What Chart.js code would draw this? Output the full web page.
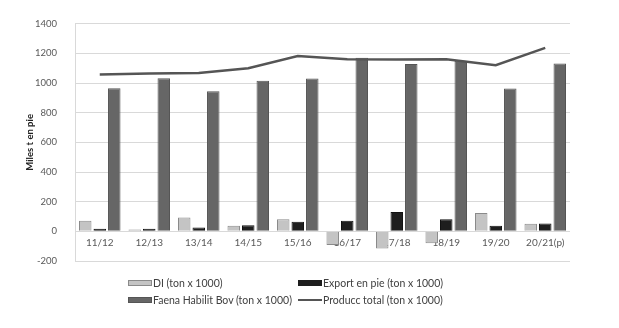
<!DOCTYPE html>
<html>
<head>
<meta charset="utf-8">
<script src="https://cdn.jsdelivr.net/npm/chart.js@4"></script>
<style>
  html, body { margin: 0; padding: 0; background: #fff; }
  #wrap { position: relative; width: 619px; height: 328px; }
  #legenda { position: absolute; left: 128px; top: 277px; font-family: Lato, sans-serif; font-size: 10.5px; color: #404040; display: grid; grid-template-columns: 170px 170px; row-gap: 5px; }
  .voce { display: flex; align-items: center; white-space: nowrap; }
  .box { width: 24px; height: 6px; margin-right: 1px; box-sizing: border-box; }
  .linea { width: 24px; height: 2px; margin-right: 1px; background: #555; }
</style>
</head>
<body>
<div id="wrap">
  <canvas id="grafico" width="619" height="328"></canvas>
  <div id="legenda">
    <div class="voce"><span class="box" style="background:#c4c4c4;border:1px solid #8a8a8a"></span>DI (ton x 1000)</div>
    <div class="voce"><span class="box" style="background:#1e1e1e"></span>Export en pie (ton x 1000)</div>
    <div class="voce"><span class="box" style="background:#666;border:1px solid #555"></span>Faena Habilit Bov (ton x 1000)</div>
    <div class="voce"><span class="linea"></span>Producc total (ton x 1000)</div>
  </div>
</div>
<script>
const categorie = ['11/12', '12/13', '13/14', '14/15', '15/16', '16/17', '17/18', '18/19', '19/20', '20/21(p)'];
const di = [72, 12, 94, 37, 81, -92, -116, -81, 123, 51];
const exportPie = [17, 18, 26, 41, 64, 72, 131, 81, 37, 53];
const faena = [965, 1033, 944, 1015, 1031, 1171, 1129, 1151, 963, 1132];
const producc = [1058, 1064, 1068, 1100, 1182, 1160, 1158, 1160, 1120, 1237];

const ctx = document.getElementById('grafico').getContext('2d');
new Chart(ctx, {
    type: 'bar',
    data: {
        labels: categorie,
        datasets: [
            { type: 'line', label: 'Producc total (ton x 1000)', data: producc, borderColor: '#555', borderWidth: 2.5, pointRadius: 0, tension: 0, fill: false, order: 0 },
            { label: 'DI (ton x 1000)', data: di, backgroundColor: '#c4c4c4', borderColor: '#8a8a8a', borderWidth: 1, order: 1 },
            { label: 'Export en pie (ton x 1000)', data: exportPie, backgroundColor: '#1e1e1e', borderColor: '#111', borderWidth: 1, order: 1 },
            { label: 'Faena Habilit Bov (ton x 1000)', data: faena, backgroundColor: '#666', borderColor: '#555', borderWidth: 1, order: 1 }
        ]
    },
    options: {
        responsive: false,
        animation: false,
        datasets: { bar: { categoryPercentage: 0.88, barPercentage: 0.86 } },
        layout: { padding: { left: 0, top: 17, right: 49, bottom: 67 } },
        plugins: { legend: { display: false }, tooltip: { enabled: false } },
        scales: {
            x: {
                position: { y: 0 },
                grid: { display: false, drawTicks: false },
                border: { display: false },
                ticks: { color: '#595959', font: { family: 'Lato', size: 10 }, padding: 5, maxRotation: 0 },
                afterFit: s => { s.height = 0; }
            },
            y: {
                min: -200, max: 1400,
                ticks: { stepSize: 200, color: '#595959', font: { family: 'Lato', size: 9.5 }, padding: 18, callback: v => String(v) },
                grid: { color: '#d9d9d9', drawTicks: false },
                border: { color: '#d9d9d9' },
                title: { display: true, text: 'Miles t en pie', color: '#222', font: { family: 'Lato', size: 9.5, weight: 'bold' }, padding: { top: 24 } },
                afterFit: s => { s.width = 75; }
            }
        }
    }
});
</script>
</body>
</html>
